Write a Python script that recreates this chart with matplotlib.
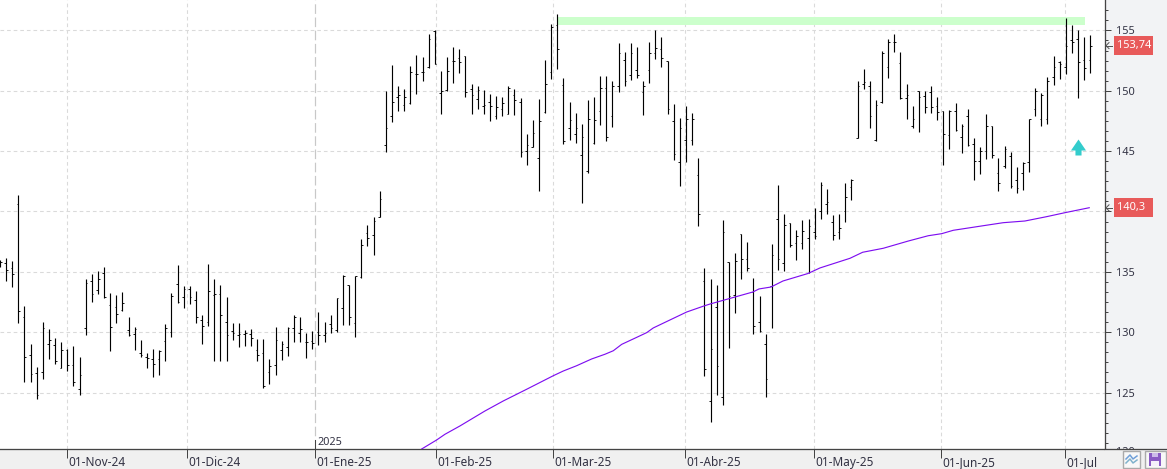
import matplotlib
matplotlib.use("Agg")
import matplotlib.pyplot as plt
from matplotlib.patches import Rectangle
from matplotlib.path import Path

highs = [135.99,136.13,135.91,141.38,132.15,129.03,127.13,130.83,130.25,129.50,129.17,128.59,128.87,127.95,134.42,134.80,135.08,135.41,133.23,133.09,
133.31,131.27,130.44,129.36,128.26,128.62,128.51,130.69,133.23,135.58,133.81,133.84,133.42,131.43,135.66,134.42,133.92,132.93,130.77,130.77,
130.19,130.27,129.45,129.45,127.79,130.44,129.25,130.44,131.41,131.27,129.91,130.11,131.67,130.88,131.43,132.84,134.75,133.89,134.69,137.70,
138.86,139.53,141.71,149.97,152.12,150.38,150.14,152.04,152.95,152.79,154.69,155.00,151.63,152.79,153.62,153.42,152.87,150.60,150.38,150.05,
149.72,149.56,149.45,150.38,150.11,149.39,146.41,147.57,149.31,152.54,155.52,156.32,151.02,149.06,148.15,147.21,149.22,149.45,151.21,151.21,
150.80,153.95,153.20,153.95,153.62,150.80,154.03,155.00,154.44,152.43,148.89,147.73,148.73,148.15,144.47,135.29,134.38,133.88,139.27,135.79,
136.54,138.11,137.45,134.46,132.97,129.81,137.28,142.18,139.77,139.03,138.44,139.27,139.36,140.27,142.43,141.85,139.69,139.77,142.34,142.68,
150.80,151.79,150.80,149.20,153.26,154.25,154.69,153.20,150.55,148.70,149.94,149.94,150.36,149.45,148.29,148.37,148.95,147.21,148.45,146.05,
145.33,148.04,147.04,144.47,145.41,144.89,143.70,144.06,147.70,150.27,149.80,151.10,152.84,152.43,156.07,155.41,155.00,154.42,154.58]
lows = [135.44,134.28,133.78,130.80,125.91,125.91,124.50,126.08,127.79,127.40,126.99,126.79,125.50,124.83,129.80,132.46,133.20,132.81,128.48,130.80,
131.79,129.72,128.56,127.98,127.07,126.32,126.41,127.57,129.64,132.40,132.04,132.35,130.72,128.98,130.49,127.57,127.57,127.57,129.31,128.73,
128.89,128.89,127.65,125.41,125.74,126.49,127.73,128.01,129.20,129.20,127.90,128.64,128.95,129.17,129.89,130.05,130.61,130.61,129.64,134.47,
137.18,136.43,139.53,144.94,147.43,148.34,148.34,148.92,149.75,150.83,151.85,152.18,148.09,150.00,150.66,151.49,149.50,148.09,148.51,148.09,
147.51,147.68,147.93,148.04,148.01,144.53,143.87,145.38,141.71,148.17,150.99,151.82,145.61,145.94,145.69,140.72,143.20,145.61,147.18,145.85,
147.01,149.91,150.41,150.91,151.07,148.01,150.66,152.65,151.99,148.09,144.28,142.13,144.11,145.52,138.81,126.38,122.57,124.81,123.98,128.71,
131.61,134.43,135.10,129.87,130.04,124.64,130.37,135.18,135.10,137.09,136.01,136.87,134.88,137.70,139.41,139.83,137.61,137.70,139.16,140.99,
146.05,150.14,146.93,145.85,148.95,151.07,153.20,149.28,147.68,146.93,146.60,148.17,148.17,147.59,143.87,145.19,146.68,144.86,145.44,142.62,
143.12,144.36,144.45,141.71,143.62,141.96,141.55,141.79,143.29,147.95,147.10,147.26,150.49,150.99,151.41,153.17,149.42,150.91,151.49]
opens = [135.72,135.72,135.30,140.60,131.27,128.09,126.60,126.68,129.00,128.92,126.99,128.51,127.26,125.27,130.33,134.22,133.48,134.89,132.23,132.07,
131.82,130.16,129.83,128.29,127.95,127.76,127.76,129.25,130.00,133.97,132.90,133.59,132.65,130.99,130.83,133.12,133.15,130.83,130.08,129.75,
129.83,129.83,128.51,128.29,126.68,127.26,128.51,128.78,130.33,129.91,129.17,129.25,130.00,129.75,130.66,130.14,131.99,133.89,130.74,134.58,
138.20,138.04,139.58,145.47,147.87,149.47,148.86,148.95,151.35,151.52,152.01,154.94,149.78,150.03,152.43,152.68,152.84,150.11,149.28,148.70,
149.11,147.87,148.45,148.04,149.61,149.11,144.97,145.38,144.39,148.26,151.52,155.49,150.44,146.88,146.38,144.64,143.34,145.69,148.29,150.27,
147.87,150.36,152.51,151.27,151.76,149.86,151.68,153.09,153.42,152.43,147.46,144.06,145.96,145.96,142.98,134.21,124.26,132.05,124.59,135.79,
133.05,138.11,136.04,133.30,130.81,128.98,133.80,139.36,135.71,139.03,137.37,137.37,137.78,138.28,140.02,140.60,139.11,138.28,140.02,142.01,
146.05,150.60,150.36,145.88,149.03,151.93,154.08,152.26,149.36,147.12,149.94,149.53,149.86,148.70,148.29,146.30,148.29,146.21,147.95,145.55,
144.22,145.05,147.04,143.15,143.78,144.56,142.57,143.15,144.06,148.45,147.70,147.62,151.10,152.35,152.01,154.17,154.25,152.59,152.51]
closes = [135.80,135.13,134.80,131.74,127.93,126.52,124.78,130.33,129.33,127.57,128.51,127.26,125.88,126.43,134.06,133.15,134.39,132.95,130.44,131.49,
132.40,129.80,130.25,128.12,127.82,127.35,128.45,130.36,133.01,132.48,133.59,132.90,131.27,130.52,133.42,133.15,131.43,129.75,129.91,129.83,
129.89,129.50,128.12,125.50,127.18,129.33,128.98,130.33,131.27,130.25,129.17,129.09,129.75,129.91,130.33,132.81,134.64,131.27,134.69,137.23,
137.79,139.20,141.02,146.88,149.11,149.61,149.45,151.52,151.35,151.52,154.33,152.18,149.94,151.60,152.43,152.35,149.86,149.69,150.03,148.86,
148.70,148.62,148.95,150.19,149.20,144.89,145.47,146.54,147.46,150.52,155.27,153.42,145.80,147.54,146.88,146.21,147.62,147.54,150.19,146.13,
150.36,153.17,150.85,153.17,151.27,150.36,153.09,153.51,152.68,148.45,144.80,146.88,147.62,147.70,139.75,126.91,128.57,127.16,138.28,132.97,
135.87,136.04,135.29,130.48,130.12,126.08,136.37,136.04,138.86,137.20,137.95,138.36,138.78,137.95,142.18,140.77,138.03,138.61,141.18,142.59,
150.36,150.69,147.87,148.78,153.17,154.08,154.08,149.36,149.69,147.62,149.45,148.62,148.62,148.20,146.38,148.29,146.79,147.12,145.47,144.22,
145.05,147.12,144.64,142.32,145.14,142.13,141.96,143.98,147.70,149.94,149.69,150.77,152.01,152.18,153.75,154.00,152.35,151.85,153.74]

ma_x = [68.85,71.30,72.65,75.10,79.18,82.17,85.99,90.33,91.96,94.15,96.60,98.77,100.13,101.50,103.95,105.58,106.66,109.38,112.11,114.93,115.91,118.85,122.93,123.91,125.87,127.83,131.91,133.87,138.77,140.84,144.20,148.28,151.55,153.74,155.63,160.53,163.79,167.33,170.88,173.87,177.83]
ma_y = [120.32,121.07,121.54,122.23,123.47,124.30,125.27,126.39,126.78,127.22,127.78,128.17,128.46,128.99,129.57,129.96,130.35,131.01,131.67,132.17,132.33,132.75,133.33,133.58,133.74,134.24,134.86,135.32,136.12,136.62,136.95,137.55,137.99,138.16,138.44,138.82,139.07,139.21,139.57,139.90,140.31]

date_labels = ["01-Nov-24","01-Dic-24","01-Ene-25","01-Feb-25","01-Mar-25","01-Abr-25","01-May-25","01-Jun-25","01-Jul"]
date_pos = [10.95,30.6,51.5,71.2,90.3,111.9,132.9,153.7,173.9]
price_ticks = [125,130,135,140,145,150,155]
price_labels = ["125","130","135","","145","150","155"]
lowest_label = 120
last_price = 153.74
last_ma = 140.3
resistance_low, resistance_high = 155.45, 156.11
resistance_from, resistance_to = 91.0, 177.1
signal_x, signal_y = 176.05, 145.33

W, H = 1167, 469
Y0, Y1 = 120.32, 157.52
X0, X1 = 0.013, 180.4
plt.rcParams["font.family"] = ["Noto Sans", "DejaVu Sans"]
fig = plt.figure(figsize=(W/100, H/100), dpi=100, facecolor="#f0f0f0")
fig.patches.append(Rectangle((1105/W, 20/H), 62/W, 449/H, transform=fig.transFigure, fc="#f2f3f5", ec="none", zorder=0))
ax = fig.add_axes([0, 20/H, 1105/W, 449/H], facecolor="white", zorder=2)
px = 0.72
TW = 1.6/6.126
INK = "#333344"
AXC = "#444444"

for p in price_ticks:
    ax.axhline(p, color="#dadada", lw=1.1*px, dashes=(3.3, 2.7), zorder=1)
for d, l in zip(date_pos, date_labels):
    if l == "01-Ene-25":
        ax.axvline(d, color="#c8c8c8", lw=1.2*px, dashes=(8, 3), zorder=1)
        ax.plot([d, d], [0, 9/449], transform=ax.get_xaxis_transform(), color=AXC, lw=1*px, zorder=2)
    else:
        ax.axvline(d, color="#dadada", lw=1.1*px, dashes=(3.3, 2.7), zorder=1)

ax.add_patch(Rectangle((resistance_from, resistance_low), resistance_to-resistance_from, resistance_high-resistance_low,
                       fc="#ccffcc", ec="none", zorder=1.5))
idx = list(range(len(highs)))
ax.vlines(idx, lows, highs, color="black", lw=1.15*px, zorder=3)
ax.hlines(opens, [i-TW for i in idx], idx, color="black", lw=0.9*px, zorder=3)
ax.hlines(closes, idx, [i+TW for i in idx], color="black", lw=0.9*px, zorder=3)
ax.plot(ma_x, ma_y, color="#7d0df0", lw=1.15*px, zorder=4, solid_joinstyle="round")

arrow = Path([(-0.38,-1),(-0.38,-0.375),(-0.94,-0.375),(0,1),(0.94,-0.375),(0.38,-0.375),(0.38,-1),(-0.38,-1)], closed=True)
ax.plot([signal_x], [signal_y], marker=arrow, ms=16*px, mfc="#33cccc", mec="none", zorder=5, ls="none")

for s in ["top", "left"]:
    ax.spines[s].set_visible(False)
for s in ["right", "bottom"]:
    ax.spines[s].set_color(AXC)
    ax.spines[s].set_linewidth(1.3*px)

ax.yaxis.tick_right()
ax.set_yticks(price_ticks)
ax.set_yticklabels(price_labels, fontsize=7.9, color=INK)
ax.set_yticks([p + k*5/6 for p in range(120, 160, 5) for k in range(1, 6) if p + k*5/6 < 157.4], minor=True)
ax.tick_params(axis="y", which="major", length=6*px, width=1*px, color=AXC, pad=5*px)
ax.tick_params(axis="y", which="minor", length=3*px, width=1*px, color=AXC)

ax.set_xticks(date_pos)
ax.set_xticklabels([])
ax.tick_params(axis="x", which="major", length=9*px, width=1*px, color=AXC, direction="out")
ax.set_xlim(X0, X1)
ax.set_ylim(Y0, Y1)

ax.annotate(str(lowest_label), (1, lowest_label), xycoords=("axes fraction", "data"), xytext=(11*px, 0), textcoords="offset points",
            fontsize=7.9, color=INK, ha="left", va="center", annotation_clip=False)
for d, l in zip(date_pos, date_labels):
    ax.annotate(l, (d, 0), xycoords=("data", "axes fraction"), xytext=(1*px, -17*px), textcoords="offset points",
                fontsize=8.5, color=INK, ha="left", va="baseline", annotation_clip=False)
ax.annotate("2025", (date_pos[2], 0), xycoords=("data", "axes fraction"), xytext=(2*px, 4*px), textcoords="offset points",
            fontsize=7.8, color=INK, ha="left", va="baseline")

# bottom strip under the price scale (hides the lower part of the lowest label)
fig.patches.append(Rectangle((1105/W, 0), 62/W, 19.6/H, transform=fig.transFigure, fc="#f0f0f0", ec="none", zorder=3))
fig.add_artist(plt.Line2D([1105/W, 1], [20/H, 20/H], color=AXC, lw=1.3*px, zorder=4))

# price tags on the right
for v, s in [(last_price, "153,74"), (last_ma, "140,3")]:
    yy = (20 + (v - Y0) / (Y1 - Y0) * 449) / H
    fig.patches.append(Rectangle((1114/W, yy-9.5/H), 39/W, 19/H, transform=fig.transFigure, fc="#e85a5a", ec="none", zorder=6))
    fig.text(1116.5/W, yy, s, fontsize=7.9, color="white", va="center", ha="left", zorder=7)
    fig.add_artist(plt.Line2D([1106/W, 1111.5/W], [yy, yy], color="#555555", lw=1*px, zorder=7))
    fig.add_artist(plt.Line2D([1109/W, 1106/W, 1109/W], [yy+3/H, yy, yy-3/H], color="#555555", lw=1*px, zorder=7))

# bottom right buttons
fig.patches.append(Rectangle((1122.5/W, 1/H), 17.5/W, 17/H, transform=fig.transFigure, fc="#f8f8f8", ec="#aaaaaa", lw=1.4*px, zorder=6))
fig.patches.append(Rectangle((1144.5/W, 1/H), 21.5/W, 17/H, transform=fig.transFigure, fc="#f8f8f8", ec="#aaaaaa", lw=1.4*px, zorder=6))
zig_x = [1126, 1130, 1133, 1137]
for dy, c in ((0, "#7fb2cc"), (4, "#6f9fd8")):
    fig.add_artist(plt.Line2D([x/W for x in zig_x], [(y+dy)/H for y in (6, 10, 6, 9)], color=c, lw=1.5*px, zorder=7))
fig.patches.append(Rectangle((1149/W, 3/H), 12/W, 13/H, transform=fig.transFigure, fc="#8a5cc4", ec="none", zorder=7))
fig.patches.append(Rectangle((1152/W, 12/H), 6/W, 4/H, transform=fig.transFigure, fc="#cdbcea", ec="none", zorder=8))
fig.patches.append(Rectangle((1151/W, 3/H), 8/W, 5/H, transform=fig.transFigure, fc="#f4f0fa", ec="none", zorder=8))

fig.savefig("out.png", dpi=100, facecolor=fig.get_facecolor())
